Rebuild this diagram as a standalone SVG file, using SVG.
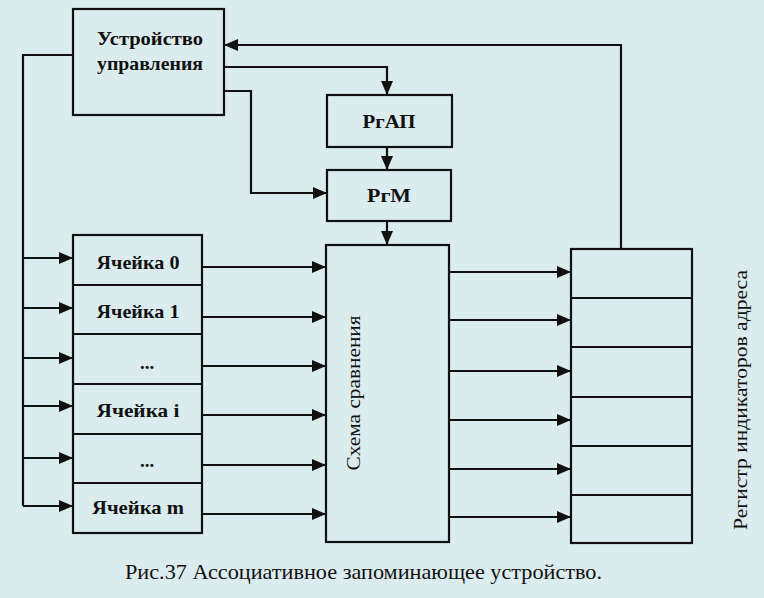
<svg xmlns="http://www.w3.org/2000/svg" width="764" height="598" viewBox="0 0 764 598">
<defs>
<marker id="ah" markerWidth="14" markerHeight="12" refX="14" refY="6" orient="auto" markerUnits="userSpaceOnUse"><path d="M0,0 L14,6 L0,12 z" fill="#111"/></marker>
<style>
.box{fill:none;stroke:#111;stroke-width:2.2}
.ln{fill:none;stroke:#111;stroke-width:2.2}
.arr{fill:none;stroke:#111;stroke-width:2.2;marker-end:url(#ah)}
.lbl{font-weight:bold;font-size:19px;text-anchor:middle;fill:#111}
.rot{font-size:19px;text-anchor:middle;fill:#111}
.cap{font-size:21px;fill:#111}
</style>
</defs>
<rect width="764" height="598" fill="#dbecee"/>
<g font-family="'Liberation Serif', 'DejaVu Serif', serif">
<g id="uu">
<rect class="box" x="73" y="9" width="151" height="106"/>
<text class="lbl" x="150" y="45" textLength="106" lengthAdjust="spacingAndGlyphs">Устройство</text>
<text class="lbl" x="150" y="70" textLength="106" lengthAdjust="spacingAndGlyphs">управления</text>
</g>
<g id="rgap">
<rect class="box" x="327" y="95" width="125" height="52"/>
<text class="lbl" x="389" y="128" textLength="53" lengthAdjust="spacingAndGlyphs">РгАП</text>
</g>
<g id="rgm">
<rect class="box" x="327" y="170" width="124" height="51"/>
<text class="lbl" x="389" y="202" textLength="44" lengthAdjust="spacingAndGlyphs">РгМ</text>
</g>
<g id="cells">
<rect class="box" x="73" y="235" width="129" height="298"/>
<line class="ln" x1="73" y1="285" x2="202" y2="285"/>
<line class="ln" x1="73" y1="334" x2="202" y2="334"/>
<line class="ln" x1="73" y1="384" x2="202" y2="384"/>
<line class="ln" x1="73" y1="434" x2="202" y2="434"/>
<line class="ln" x1="73" y1="483" x2="202" y2="483"/>
<text class="lbl" x="138" y="269" textLength="83" lengthAdjust="spacingAndGlyphs">Ячейка 0</text>
<text class="lbl" x="138" y="318" textLength="83" lengthAdjust="spacingAndGlyphs">Ячейка 1</text>
<text class="lbl" x="147" y="369">...</text>
<text class="lbl" x="138" y="417" textLength="83" lengthAdjust="spacingAndGlyphs">Ячейка i</text>
<text class="lbl" x="147" y="467">...</text>
<text class="lbl" x="138" y="514" textLength="92" lengthAdjust="spacingAndGlyphs">Ячейка m</text>
</g>
<g id="cmp">
<rect class="box" x="326" y="245" width="123" height="297"/>
<text class="rot" transform="translate(356,393) rotate(-90)" dominant-baseline="middle" textLength="155" lengthAdjust="spacingAndGlyphs">Схема сравнения</text>
</g>
<g id="reg">
<rect class="box" x="571" y="249" width="121" height="294"/>
<line class="ln" x1="571" y1="298" x2="692" y2="298"/>
<line class="ln" x1="571" y1="347" x2="692" y2="347"/>
<line class="ln" x1="571" y1="397" x2="692" y2="397"/>
<line class="ln" x1="571" y1="446" x2="692" y2="446"/>
<line class="ln" x1="571" y1="495" x2="692" y2="495"/>
<text class="rot" transform="translate(743,400) rotate(-90)" dominant-baseline="middle" textLength="260" lengthAdjust="spacingAndGlyphs">Регистр индикаторов адреса</text>
</g>
<text class="cap" x="125" y="579" textLength="477" lengthAdjust="spacingAndGlyphs">Рис.37 Ассоциативное запоминающее устройство.</text>
</g>
<g id="connectors">
<path class="arr" d="M621,249 V45 H224"/>
<path class="arr" d="M224,67 H387 V95"/>
<path class="arr" d="M387,147 V170"/>
<path class="arr" d="M224,91 H251 V193 H327"/>
<path class="arr" d="M387,221 V245"/>
<path class="ln" d="M73,55 H23 V506"/>
<path class="arr" d="M23,258 H73"/>
<path class="arr" d="M23,308 H73"/>
<path class="arr" d="M23,358 H73"/>
<path class="arr" d="M23,406 H73"/>
<path class="arr" d="M23,458 H73"/>
<path class="arr" d="M23,506 H73"/>
<path class="arr" d="M202,267 H326"/>
<path class="arr" d="M202,317 H326"/>
<path class="arr" d="M202,366 H326"/>
<path class="arr" d="M202,415 H326"/>
<path class="arr" d="M202,465 H326"/>
<path class="arr" d="M202,514 H326"/>
<path class="arr" d="M449,272 H571"/>
<path class="arr" d="M449,320 H571"/>
<path class="arr" d="M449,371 H571"/>
<path class="arr" d="M449,420 H571"/>
<path class="arr" d="M449,469 H571"/>
<path class="arr" d="M449,517 H571"/>
</g>
</svg>
